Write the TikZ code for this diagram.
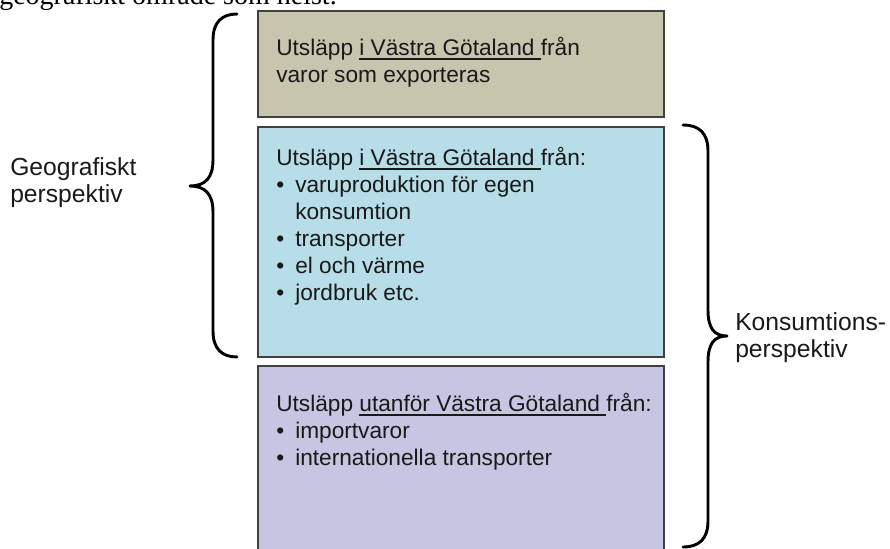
\documentclass[tikz,border=0pt]{standalone}
\usepackage{fontspec}
\setmainfont{Liberation Sans}
\newfontfamily\timesfont{Liberation Serif}

\definecolor{exportgray}{RGB}{199,197,174}
\definecolor{egenblue}{RGB}{183,221,232}
\definecolor{importlila}{RGB}{198,197,226}
\definecolor{ramgray}{RGB}{64,64,64}
\definecolor{textsvart}{RGB}{25,25,25}

\newsavebox\strecklada
\newcommand{\streck}[1]{\sbox\strecklada{#1}\rlap{\rule[-3pt]{\wd\strecklada}{1.1pt}}\usebox\strecklada}
\newcommand{\punkt}{\makebox[14.25pt][l]{\textbullet}}

\begin{document}
\begin{tikzpicture}[x=0.75pt,y=-0.75pt,
	box/.style={draw=ramgray, line width=1.2pt},
	boxtext/.style={anchor=north west, inner sep=0pt, align=left, text=textsvart,
		font=\fontsize{17pt}{20.25pt}\selectfont, execute at begin node=\rule{0pt}{15pt}},
	sidetext/.style={boxtext, font=\fontsize{18.5pt}{20.5pt}\selectfont},
	klammer/.style={line width=2.2pt, line cap=round, line join=round}]

	\clip (0,0) rectangle (890,549);

	\node[anchor=base west, inner sep=0pt, text=black, font=\timesfont\fontsize{21pt}{25pt}\selectfont] (rubrik) at (-1,5) {geografiskt område som helst.};

	\draw[box, fill=exportgray] (258,11) rectangle (664,117);
	\draw[box, fill=egenblue] (258,127) rectangle (664,357);
	\draw[box, fill=importlila] (258,366) rectangle (664,560);

	\node[boxtext] (export) at (276,37) {Utsläpp \streck{i Västra Götaland }från\\varor som exporteras};
	\node[boxtext] (egen) at (276,147) {Utsläpp \streck{i Västra Götaland }från:\\
		\punkt varuproduktion för egen\\
		\hspace*{14.25pt}konsumtion\\
		\punkt transporter\\
		\punkt el och värme\\
		\punkt jordbruk etc.};
	\node[boxtext] (import) at (276,393) {Utsläpp \streck{utanför Västra Götaland }från:\\
		\punkt importvaror\\
		\punkt internationella transporter};

	\node[sidetext] (geo) at (10,157) {Geografiskt\\perspektiv};
	\node[sidetext] (kons) at (735,312) {Konsumtions-\\perspektiv};

	\draw[klammer] (237,14) .. controls (222,14) and (213,22) .. (213,40) -- (213,160)
		.. controls (213,178) and (205,186) .. (190,186)
		.. controls (205,186) and (213,194) .. (213,212) -- (213,331)
		.. controls (213,349) and (222,357) .. (237,357);
	\draw[klammer] (683,125) .. controls (699,125) and (708,133) .. (708,151) -- (708,310)
		.. controls (708,328) and (714,336) .. (727,336)
		.. controls (714,336) and (708,344) .. (708,362) -- (708,521)
		.. controls (708,539) and (699,547) .. (683,547);
\end{tikzpicture}
\end{document}
